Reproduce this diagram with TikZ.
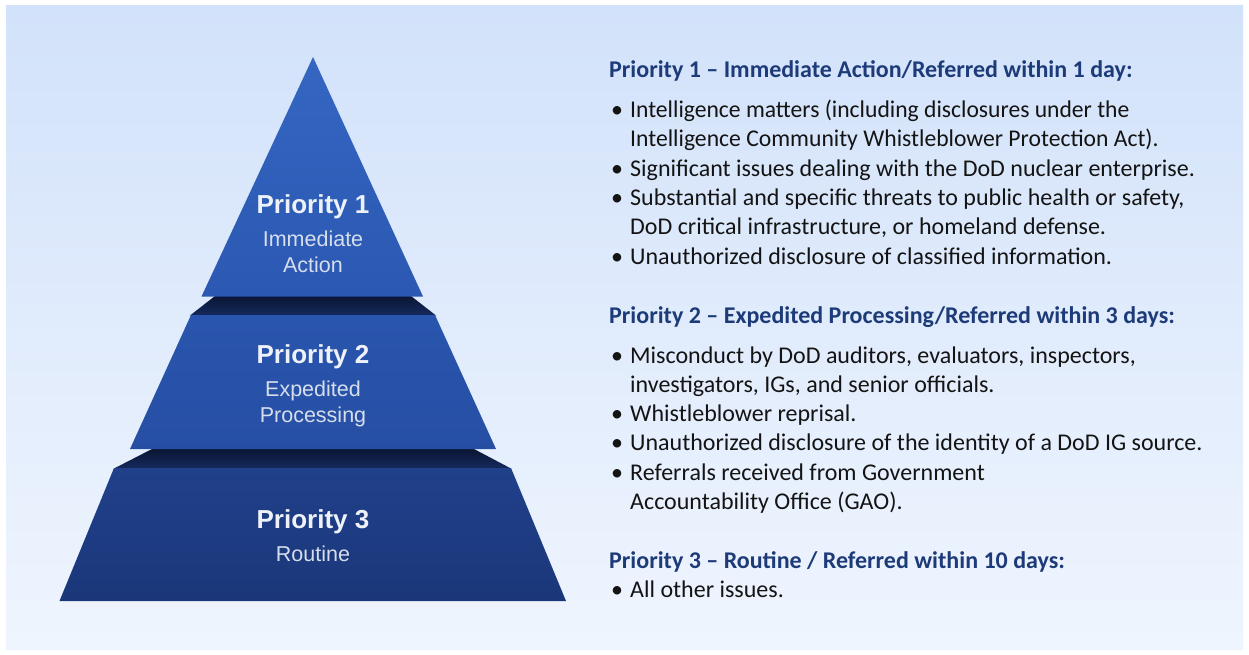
\documentclass[tikz,border=0pt]{standalone}
\usepackage{fontspec}
\setmainfont{Carlito}
\newfontfamily\pyrfont{Liberation Sans}
\definecolor{bgtop}{HTML}{D2E2FA}
\definecolor{bgbot}{HTML}{EFF5FE}
\definecolor{tonetop}{HTML}{3466C2}
\definecolor{tonebot}{HTML}{2B58B2}
\definecolor{ttwotop}{HTML}{2A55AE}
\definecolor{ttwobot}{HTML}{264FA4}
\definecolor{tthreetop}{HTML}{20408A}
\definecolor{tthreebot}{HTML}{1B377A}
\definecolor{bandtop}{HTML}{0A1634}
\definecolor{bandbot}{HTML}{15295C}
\definecolor{headnavy}{HTML}{1C3B78}
\definecolor{pyrtext}{HTML}{EEF2F8}
\definecolor{pyrsub}{HTML}{D6DEEC}
\begin{document}
\begin{tikzpicture}[x=1pt,y=-1pt,
  ptitle/.style={font=\pyrfont\bfseries\fontsize{26}{26}\selectfont, text=pyrtext, inner sep=0pt, anchor=base},
  psub/.style={font=\pyrfont\fontsize{21.5}{21.5}\selectfont, text=pyrsub, inner sep=0pt, anchor=base},
  head/.style={font=\bfseries\fontsize{24}{24}\selectfont, text=headnavy, inner sep=0pt, anchor=base west},
  body/.style={font=\fontsize{24}{24}\selectfont, text=black!92, inner sep=0pt, anchor=base west},
  bul/.style={font=\fontsize{24}{24}\selectfont, text=black!92, inner sep=0pt, anchor=base west}
]
\useasboundingbox (0,0) rectangle (1249,655);
\fill[white] (0,0) rectangle (1249,655);
\shade[top color=bgtop, bottom color=bgbot] (6,6) rectangle (1243,649);

% dark bands (top faces of lower tiers)
\shade[top color=bandtop, bottom color=bandbot] (215,296) -- (411,296) -- (436,315.5) -- (190,315.5) -- cycle;
\shade[top color=bandtop, bottom color=bandbot] (152,449) -- (474,449) -- (511,468.5) -- (114,468.5) -- cycle;

% tier 3
\shade[top color=tthreetop, bottom color=tthreebot] (114,468) -- (511,468) -- (566,601) -- (59.5,601) -- cycle;
% tier 2
\shade[top color=ttwotop, bottom color=ttwobot] (191,315) -- (435,315) -- (496,449) -- (130,449) -- cycle;
% tier 1
\shade[top color=tonetop, bottom color=tonebot] (313,57) -- (423,296.5) -- (201.5,296.5) -- cycle;

% pyramid labels
\node[ptitle] (p1) at (313,213) {Priority 1};
\node[psub] (p1a) at (313,246.5) {Immediate};
\node[psub] (p1b) at (313,272.5) {Action};
\node[ptitle] (p2) at (313,363.5) {Priority 2};
\node[psub] (p2a) at (313,396.5) {Expedited};
\node[psub] (p2b) at (313,422.5) {Processing};
\node[ptitle] (p3) at (313,528.5) {Priority 3};
\node[psub] (p3a) at (313,561) {Routine};

% right-hand text
\node[head] (h1) at (609,77.5) {Priority 1 – Immediate Action/Referred within 1 day:};
\node[bul] (b11) at (611,117.5) {•};
\node[body] (t11a) at (630,117.5) {\scalebox{0.983}[1]{Intelligence matters (including disclosures under the}};
\node[body] (t11b) at (630,146.8) {\scalebox{0.985}[1]{Intelligence Community Whistleblower Protection Act).}};
\node[bul] (b12) at (611,176.1) {•};
\node[body] (t12) at (630,176.1) {Significant issues dealing with the DoD nuclear enterprise.};
\node[bul] (b13) at (611,205.4) {•};
\node[body] (t13a) at (630,205.4) {Substantial and specific threats to public health or safety,};
\node[body] (t13b) at (630,234.7) {DoD critical infrastructure, or homeland defense.};
\node[bul] (b14) at (611,264) {•};
\node[body] (t14) at (630,264) {Unauthorized disclosure of classified information.};

\node[head] (h2) at (609,323.5) {Priority 2 – Expedited Processing/Referred within 3 days:};
\node[bul] (b21) at (611,363.5) {•};
\node[body] (t21a) at (630,363.5) {Misconduct by DoD auditors, evaluators, inspectors,};
\node[body] (t21b) at (630,392.3) {investigators, IGs, and senior officials.};
\node[bul] (b22) at (611,421.1) {•};
\node[body] (t22) at (630,421.1) {Whistleblower reprisal.};
\node[bul] (b23) at (611,450.7) {•};
\node[body] (t23) at (630,450.7) {Unauthorized disclosure of the identity of a DoD IG source.};
\node[bul] (b24) at (611,480) {•};
\node[body] (t24a) at (630,480) {Referrals received from Government};
\node[body] (t24b) at (630,509) {Accountability Office (GAO).};

\node[head] (h3) at (609,568) {Priority 3 – Routine / Referred within 10 days:};
\node[bul] (b31) at (611,597) {•};
\node[body] (t31) at (630,597) {All other issues.};
\end{tikzpicture}
\end{document}
